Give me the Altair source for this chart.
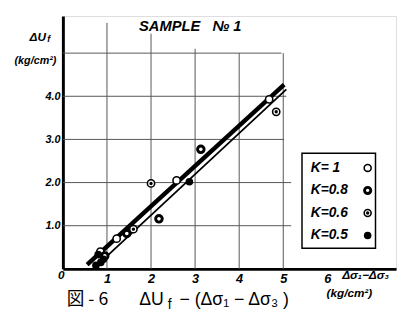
import altair as alt
import pandas as pd

# ---- data ----
k1_x = [0.85, 1.22, 2.58, 4.68]
k1_y = [0.40, 0.70, 2.05, 3.93]
k08_x = [0.95, 1.45, 2.18, 3.13]
k08_y = [0.30, 0.82, 1.16, 2.77]
k06_x = [1.60, 2.00, 4.84]
k06_y = [0.92, 1.98, 3.64]
k05_x = [0.75, 0.80, 0.86, 0.92, 2.87]
k05_y = [0.08, 0.33, 0.15, 0.22, 2.02]

fit_a_x = [0.55, 5.02]
fit_a_y = [0.10, 4.27]
fit_b_x = [0.69, 5.07]
fit_b_y = [0.00, 4.16]
light_x = [1.45, 2.35]
light_y = [0.92, 1.78]

grid_x = [1, 2, 3, 4, 5]
grid_x_top = [5.70, 5.45, 5.10, 5.00, 5.00]
grid_y = [1, 2, 3, 4, 5]
grid_y_right = [5.18, 5.18, 5.02, 5.07, 4.96]

x_ticks = [1, 2, 3, 4, 5, 6]
y_ticks = [1.0, 2.0, 3.0, 4.0]
legend_labels = ["K= 1", "K=0.8", "K=0.6", "K=0.5"]

FONT = "Liberation Sans"
xs = alt.Scale(domain=[0, 7.56], nice=False, zero=False)
ys = alt.Scale(domain=[0, 5.86], nice=False, zero=False)
xaxis = alt.Axis(values=x_ticks, title=None, grid=False, ticks=False, domainWidth=3,
                 domainColor="black", labelFont=FONT, labelFontSize=13, labelFontStyle="italic",
                 labelFontWeight="bold", labelPadding=4, labelColor="black", format="d")
yaxis = alt.Axis(values=y_ticks, title=None, grid=False, ticks=False, domainWidth=3,
                 domainColor="black", labelFont=FONT, labelFontSize=11, labelFontStyle="italic",
                 labelFontWeight="bold", labelPadding=3, labelColor="black", format=".1f")

one = pd.DataFrame({"a": [0]})

vgrid = alt.Chart(pd.DataFrame({"x": grid_x, "y0": [0] * 5, "y1": grid_x_top})).mark_rule(
    color="#555", strokeWidth=1).encode(
    x=alt.X("x:Q", scale=xs, axis=xaxis), y=alt.Y("y0:Q", scale=ys, axis=yaxis), y2="y1:Q")
hgrid = alt.Chart(pd.DataFrame({"y": grid_y, "x0": [0] * 5, "x1": grid_y_right})).mark_rule(
    color="#555", strokeWidth=1).encode(
    y=alt.Y("y:Q", scale=ys, axis=yaxis), x=alt.X("x0:Q", scale=xs, axis=xaxis), x2="x1:Q")

line_a = alt.Chart(pd.DataFrame({"x": fit_a_x, "y": fit_a_y})).mark_line(
    color="black", strokeWidth=4.5).encode(
    x=alt.X("x:Q", scale=xs, axis=xaxis), y=alt.Y("y:Q", scale=ys, axis=yaxis))
line_b = alt.Chart(pd.DataFrame({"x": fit_b_x, "y": fit_b_y})).mark_line(
    color="black", strokeWidth=1.8).encode(
    x=alt.X("x:Q", scale=xs, axis=xaxis), y=alt.Y("y:Q", scale=ys, axis=yaxis))
line_light = alt.Chart(pd.DataFrame({"x": light_x, "y": light_y})).mark_line(
    color="#ddd", strokeWidth=2.5, strokeDash=[4, 3]).encode(
    x=alt.X("x:Q", scale=xs, axis=xaxis), y=alt.Y("y:Q", scale=ys, axis=yaxis))


def pts(xv, yv, **kw):
    return alt.Chart(pd.DataFrame({"x": xv, "y": yv})).mark_point(shape="circle", **kw).encode(
        x=alt.X("x:Q", scale=xs, axis=xaxis), y=alt.Y("y:Q", scale=ys, axis=yaxis))


p1 = pts(k1_x, k1_y, size=55, filled=True, fill="white", stroke="black", strokeWidth=1.6, opacity=1)
p08 = pts(k08_x, k08_y, size=45, filled=True, fill="white", stroke="black", strokeWidth=3, opacity=1)
p06 = pts(k06_x, k06_y, size=55, filled=True, fill="white", stroke="black", strokeWidth=1.6, opacity=1)
p06d = pts(k06_x, k06_y, size=12, filled=True, color="black", opacity=1)
p05 = pts(k05_x, k05_y, size=60, filled=True, color="black", opacity=1)

# ---- legend (drawn manually) ----
leg = pd.DataFrame({"label": legend_labels, "i": list(range(4))})
leg["py"] = 155 + leg["i"] * 23
legend_box = alt.Chart(one).mark_rect(fill="white", stroke="black", strokeWidth=1.5).encode(
    x=alt.value(244), x2=alt.value(319), y=alt.value(140), y2=alt.value(237))
legend_text = alt.Chart(leg).mark_text(align="left", baseline="middle", font=FONT, fontSize=14,
                                       fontStyle="italic", fontWeight="bold", color="black").encode(
    x=alt.value(253), y=alt.Y("py:Q", scale=None), text="label:N")


def legsym(i, **kw):
    return alt.Chart(leg[leg["i"] == i]).mark_point(shape="circle", opacity=1, **kw).encode(
        x=alt.value(311), y=alt.Y("py:Q", scale=None))


ls1 = legsym(0, size=50, filled=True, fill="white", stroke="black", strokeWidth=1.6)
ls2 = legsym(1, size=40, filled=True, fill="white", stroke="black", strokeWidth=3)
ls3 = legsym(2, size=50, filled=True, fill="white", stroke="black", strokeWidth=1.6)
ls3d = legsym(2, size=12, filled=True, color="black")
ls4 = legsym(3, size=60, filled=True, color="black")


def txt(s, x, y, size=12, style="italic", weight="bold", align="left", font=FONT):
    return alt.Chart(one).mark_text(text=s, align=align, baseline="middle", font=font,
                                    fontSize=size, fontStyle=style, fontWeight=weight,
                                    color="black").encode(x=alt.value(x), y=alt.value(y))


texts = [
    txt("SAMPLE\u00a0\u00a0\u00a0№ 1", 130, 10, size=15, align="center"),
    txt("ΔU", -34, 21, size=12),
    txt("f", -16, 24, size=9),
    txt("(kg/cm²)", -28, 46, size=11, align="center"),
    txt("0", -5, 264, size=12),
    txt("Δσ₁−Δσ₃", 285, 264, size=12),
    txt("(kg/cm²)", 269, 283, size=12),
    txt("図 - 6", 4, 290, size=18, style="normal", weight="normal", font="Noto Sans CJK JP"),
    txt("ΔU", 78, 290, size=18, style="normal", weight="normal"),
    txt("f", 107, 295, size=14, style="normal", weight="normal"),
    txt("− (Δσ₁ − Δσ₃ )", 119, 290, size=18, style="normal", weight="normal"),
]

chart = alt.layer(vgrid, hgrid, line_light, line_a, line_b, p1, p08, p06, p06d, p05,
                  legend_box, legend_text, ls1, ls2, ls3, ls3d, ls4, *texts).properties(
    width=340, height=258, autosize="none",
    padding={"left": 56, "top": 5, "right": 4, "bottom": 49},
).configure_view(stroke=None).configure(background="white")

chart.save("out.html", embed_options={"renderer": "svg", "actions": False})
